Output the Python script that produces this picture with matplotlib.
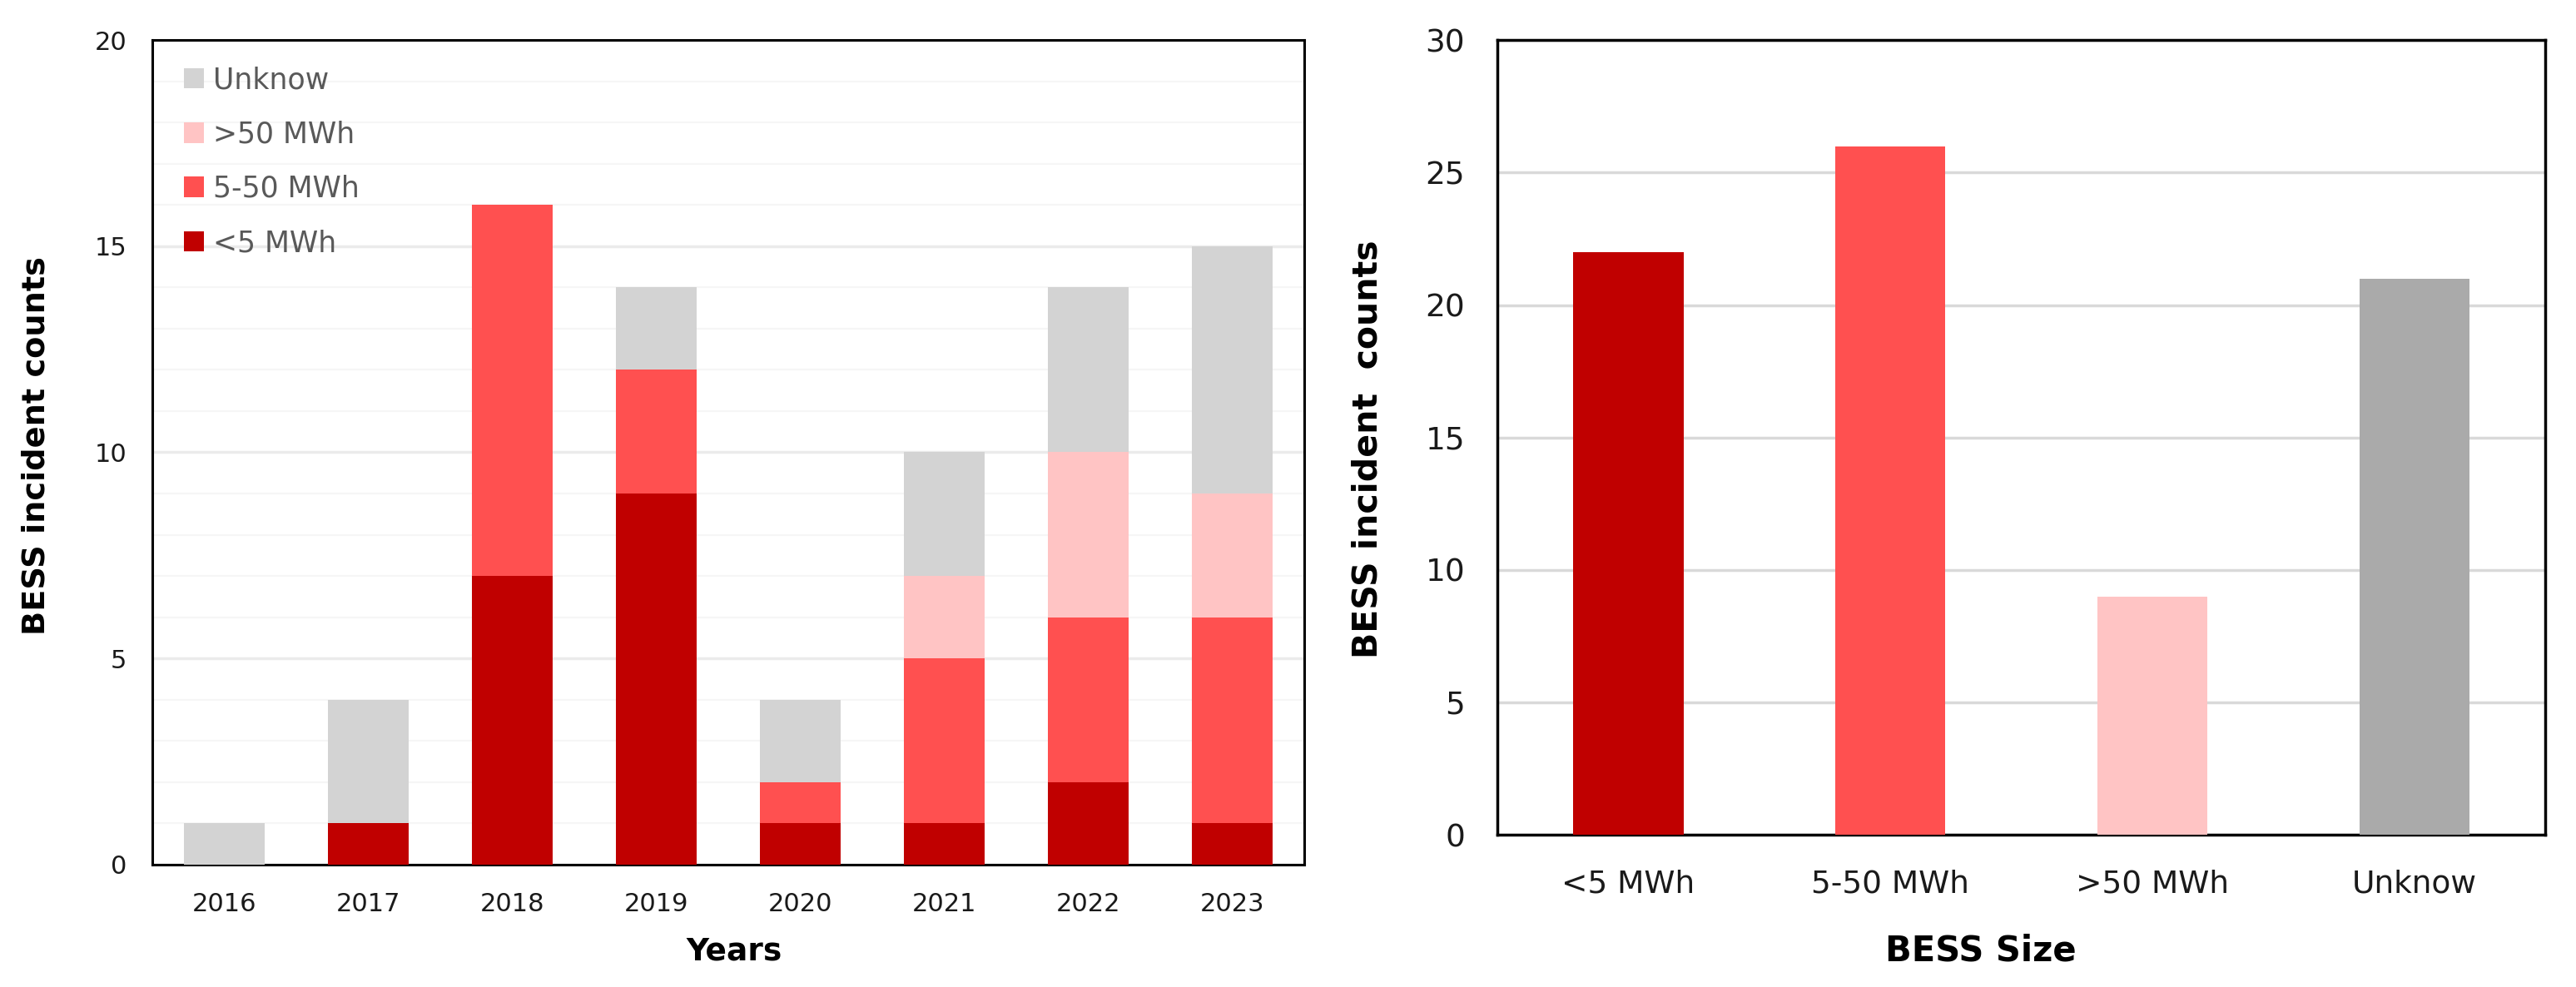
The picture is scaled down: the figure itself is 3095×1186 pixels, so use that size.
import numpy as np
import matplotlib
matplotlib.use('Agg')
import matplotlib.pyplot as plt
from matplotlib.ticker import MultipleLocator

years = ['2016', '2017', '2018', '2019', '2020', '2021', '2022', '2023']
size_labels = ['<5 MWh', '5-50 MWh', '>50 MWh', 'Unknow']

small = [0, 1, 7, 9, 1, 1, 2, 1]
mid = [0, 0, 9, 3, 1, 4, 4, 5]
large = [0, 0, 0, 0, 0, 2, 4, 3]
unknown = [1, 3, 0, 2, 2, 3, 4, 6]

totals = [22, 26, 9, 21]

colors = ['#C00000', '#FF5050', '#FFC4C4', '#D3D3D3']
right_colors = ['#C00000', '#FF5050', '#FFC4C4', '#AAAAAA']

plt.rcParams['font.family'] = ['DejaVu Sans']

fig = plt.figure(figsize=(30.95, 11.86), dpi=100)
ax1 = fig.add_axes([0.0591, 0.124, 0.4472, 0.8355])
ax2 = fig.add_axes([0.5813, 0.1543, 0.4068, 0.805])

# left: stacked by year
x = np.arange(len(years))
bottom = np.zeros(len(years))
series = [small, mid, large, unknown]
handles = []
for vals, col, lab in zip(series, colors, size_labels):
    b = ax1.bar(x, vals, 0.56, bottom=bottom, color=col, label=lab, zorder=3)
    handles.append(b)
    bottom += np.array(vals)

ax1.set_xlim(-0.5, 7.5)
ax1.set_ylim(0, 20)
ax1.yaxis.set_major_locator(MultipleLocator(5))
ax1.yaxis.set_minor_locator(MultipleLocator(1))
ax1.grid(axis='y', which='major', color='#EBEBEB', linewidth=2.5, zorder=0)
ax1.grid(axis='y', which='minor', color='#F6F6F6', linewidth=1.5, zorder=0)
ax1.set_xticks(x)
ax1.set_xticklabels(years)
ax1.tick_params(axis='both', which='both', length=0, labelsize=22, colors='#1a1a1a')
ax1.tick_params(axis='y', pad=22)
ax1.tick_params(axis='x', pad=24)
for s in ax1.spines.values():
    s.set_linewidth(2.2)
    s.set_color('black')
ax1.set_ylabel('BESS incident counts', fontsize=27.5, fontweight='bold')
ax1.yaxis.set_label_coords(-0.0874, 0.508)
ax1.set_xlabel('Years', fontsize=27, fontweight='bold')
ax1.xaxis.set_label_coords(0.505, -0.087)

leg = ax1.legend(handles[::-1], size_labels[::-1], loc='upper left',
                 bbox_to_anchor=(0.005, 1.0), frameon=False, fontsize=25,
                 handlelength=0.7, handleheight=0.7, handletextpad=0.3,
                 labelspacing=0.9)
for t in leg.get_texts():
    t.set_color('#595959')

# right: totals by size
x2 = np.arange(len(size_labels))
ax2.bar(x2, totals, 0.42, color=right_colors, zorder=3)
ax2.set_xlim(-0.5, 3.5)
ax2.set_ylim(0, 30)
ax2.yaxis.set_major_locator(MultipleLocator(5))
ax2.grid(axis='y', color='#D9D9D9', linewidth=2.5, zorder=0)
ax2.set_xticks(x2)
ax2.set_xticklabels(size_labels)
ax2.tick_params(axis='both', length=0, labelsize=27, colors='#1a1a1a')
ax2.tick_params(axis='y', pad=28)
ax2.tick_params(axis='x', pad=30)
for s in ax2.spines.values():
    s.set_linewidth(2.5)
    s.set_color('black')
ax2.set_ylabel('BESS incident  counts', fontsize=29.5, fontweight='bold')
ax2.yaxis.set_label_coords(-0.108, 0.485)
ax2.set_xlabel('BESS Size', fontsize=30, fontweight='bold')
ax2.xaxis.set_label_coords(0.461, -0.124)

fig.savefig('out.png', dpi=100)
